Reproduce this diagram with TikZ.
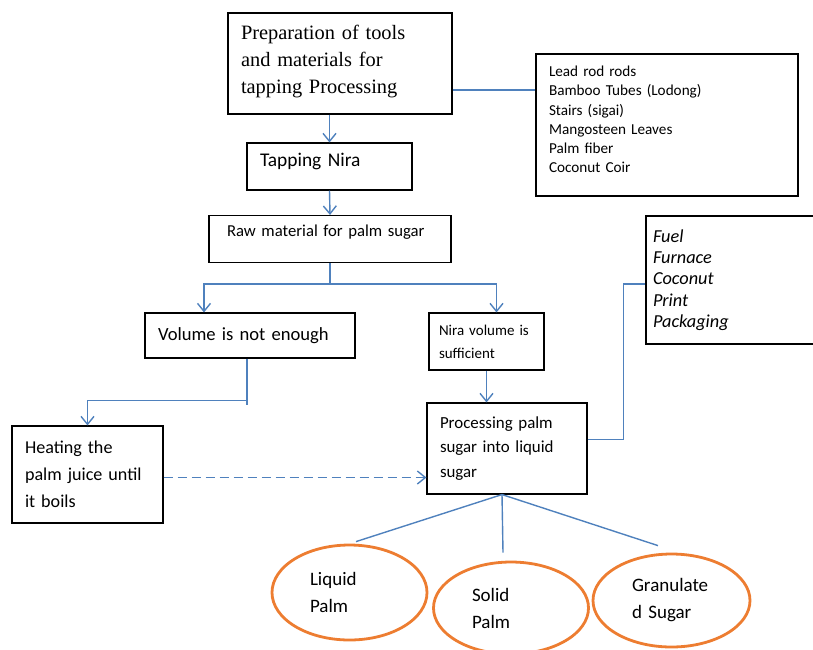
\documentclass[tikz,border=0pt]{standalone}
\usepackage{fontspec}
\setmainfont{Carlito}
\newfontfamily\timesfont{Liberation Serif}
\usetikzlibrary{arrows.meta, positioning, shapes.geometric}
\definecolor{linkblue}{RGB}{79, 129, 189}
\definecolor{ovalorange}{RGB}{237, 125, 49}

\begin{document}
\begin{tikzpicture}[
    x=1pt, y=-1pt,
    stepbox/.style={
        draw=black, line width=1.1pt, align=left,
        inner xsep=13pt, inner ysep=0pt
    },
    oval/.style={
        draw=ovalorange, line width=2.8pt, ellipse, align=left,
        inner sep=0pt, font=\fontsize{19}{27}\selectfont
    },
    link/.style={linkblue, line width=1.4pt},
    arrow/.style={link, -{Straight Barb[length=8pt, width=13pt]}}
]
\useasboundingbox (0,0) rectangle (813,649);

% TOP - preparation and tools
\node[stepbox, text width=198pt, minimum height=101pt,
      font=\timesfont\fontsize{20.4}{27}\selectfont] (prep) at (340,63.5)
    {Preparation of tools\\and materials for\\tapping Processing\par\kern4pt};
\node[stepbox, text width=236pt, minimum height=142pt,
      font=\fontsize{15.2}{19.2}\selectfont] (tools) at (667,125)
    {Lead rod rods\\Bamboo Tubes (Lodong)\\Stairs (sigai)\\Mangosteen Leaves\\Palm fiber\\Coconut Coir\par\kern11pt};

% MIDDLE - tapping and raw material
\node[stepbox, text width=139pt, minimum height=47pt, text depth=13pt,
      font=\fontsize{19.4}{23}\selectfont] (tapping) at (329.5,166.5) {Tapping Nira};
\node[stepbox, inner xsep=18pt, text width=206pt, minimum height=47pt, text depth=17pt,
      font=\fontsize{16.7}{20}\selectfont] (raw) at (330,239) {Raw material for palm sugar};

% Volume branches
\node[stepbox, text width=184pt, minimum height=45pt,
      font=\fontsize{18.6}{22}\selectfont] (lowvol) at (250,335.5) {Volume is not enough};
\node[stepbox, inner xsep=10pt, text width=95pt, minimum height=57pt,
      font=\fontsize{15}{23}\selectfont] (enough) at (486.5,341.5) {Nira volume is\\sufficient};

% LOWER - heating and processing
\node[stepbox, text width=125pt, minimum height=97pt,
      font=\fontsize{18.1}{27}\selectfont] (heat) at (87.5,474.5)
    {Heating the\\palm juice until\\it boils};
\node[stepbox, text width=134pt, minimum height=91pt,
      font=\fontsize{16.9}{24.5}\selectfont] (process) at (507,448.5)
    {Processing palm\\sugar into liquid\\sugar};
\node[stepbox, inner xsep=7pt, text width=176pt, minimum height=128pt,
      font=\itshape\fontsize{18.3}{21.3}\selectfont] (inputs) at (741,280)
    {Fuel\\Furnace\\Coconut\\Print\\Packaging};

% BOTTOM - products
\node[oval, text width=79pt, minimum width=155pt, minimum height=95pt] (liquid) at (349.5,592.5) {Liquid\\Palm};
\node[oval, text width=78pt, minimum width=155pt, minimum height=92pt] (solid) at (511,608) {Solid\\Palm};
\node[oval, text width=79pt, minimum width=157pt, minimum height=93pt] (granul) at (671.5,600.5) {Granulate\\d Sugar};

% Arrows down the main line
\draw[arrow] (tapping.north |- prep.south) -- (tapping.north);
\draw[arrow] (tapping.south) -- (raw.north);
\coordinate (split) at ([yshift=-21pt]raw.south);
\draw[link] (raw.south) -- (split);
\draw[arrow] (split) -| ([xshift=-46pt]lowvol.north);
\draw[arrow] (split) -| ([xshift=10pt]enough.north);
\draw[arrow] (enough.south) -- (enough.south |- process.north);

% Not enough: heat first
\draw[link] ([xshift=-3pt]lowvol.south) -- ++(0,46);
\draw[arrow] ([shift={(-3pt,-42pt)}]lowvol.south) -| (heat.north);
\draw[arrow, dash pattern=on 9pt off 5pt] ([yshift=-3pt]heat.east) -- ([yshift=-3pt]heat.east -| process.west);

% Side lists
\draw[link] ([yshift=-26.5pt]prep.east) -- ([yshift=-26.5pt]prep.east -| tools.west);
\draw[link] ([yshift=9pt]process.east) -- ++(36,0) |- ([yshift=-4pt]inputs.west);

% Products
\draw[link] ([xshift=-5pt]process.south) -- ([shift={(6.5pt,2pt)}]liquid.north);
\draw[link] ([xshift=-5pt]process.south) -- ([shift={(-8pt,8pt)}]solid.north);
\draw[link] ([xshift=-5pt]process.south) -- ([shift={(-13.5pt,7pt)}]granul.north);

\end{tikzpicture}
\end{document}
